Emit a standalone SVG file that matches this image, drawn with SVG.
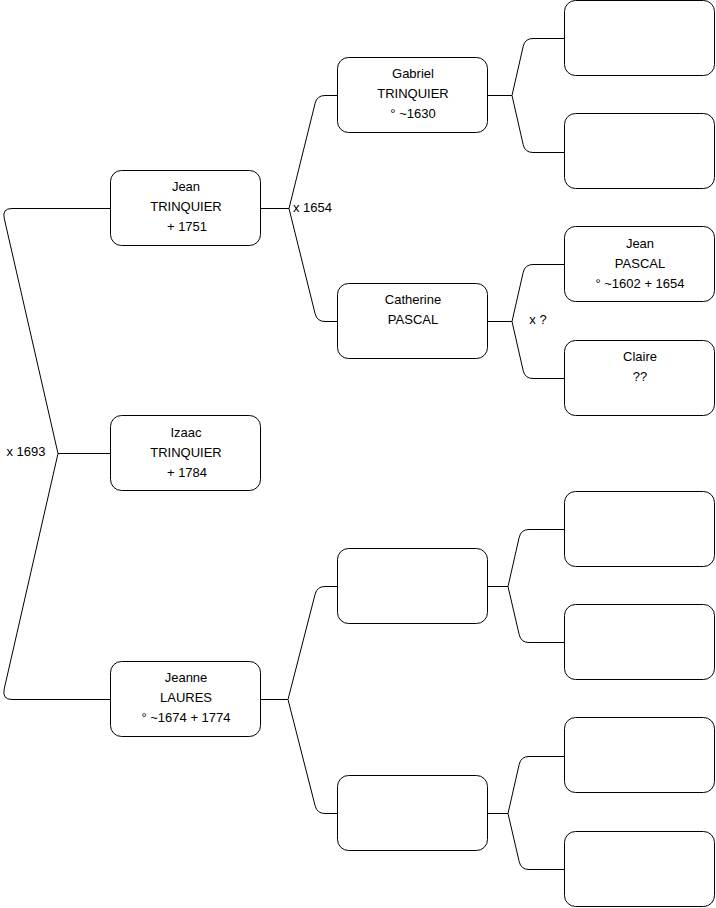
<svg xmlns="http://www.w3.org/2000/svg" width="716" height="908" viewBox="0 0 716 908">
<style>
.box{fill:#fff;stroke:#000;stroke-width:1}
.edge{fill:none;stroke:#000;stroke-width:1}
text{font-family:"Liberation Sans",Arial,sans-serif;font-size:13px;fill:#000;text-anchor:middle}
.lbl{text-anchor:start}
</style>
<rect width="716" height="908" fill="#fff"/>
<g id="connectors">
<path class="edge" d="M110.5,208.5 L12,208.5 Q2,208.5 4.2,218.2 L58,453.5 L4.2,689 Q2,699.5 12,699.5 L110.5,699.5"/>
<path class="edge" d="M58,453.5 L110.5,453.5"/>
<path class="edge" d="M260.5,208.5 L289,208.5 M325,95.5 Q317,95.5 315.1,103.3 L289,208.5 L315.1,313.7 Q317,321.5 325,321.5 L337.5,321.5 M325,95.5 L337.5,95.5"/>
<path class="edge" d="M487.5,95.5 L512,95.5 M533,38.5 Q525,38.5 523.2,46.3 L512,95.5 L523.2,144.7 Q525,152.5 533,152.5 L564.5,152.5 M533,38.5 L564.5,38.5"/>
<path class="edge" d="M487.5,321.5 L512,321.5 M533,264.5 Q525,264.5 523.2,272.3 L512,321.5 L523.2,370.7 Q525,378.5 533,378.5 L564.5,378.5 M533,264.5 L564.5,264.5"/>
<path class="edge" d="M260.5,699.5 L288,699.5 M325,586.5 Q317,586.5 315.1,594.3 L288,699.5 L315.1,805.7 Q317,813.5 325,813.5 L337.5,813.5 M325,586.5 L337.5,586.5"/>
<path class="edge" d="M487.5,586.5 L508,586.5 M529,529.5 Q521,529.5 519.2,537.3 L508,586.5 L519.2,634.7 Q521,642.5 529,642.5 L564.5,642.5 M529,529.5 L564.5,529.5"/>
<path class="edge" d="M487.5,813.5 L508,813.5 M529,756.5 Q521,756.5 519.2,764.3 L508,813.5 L519.2,861.7 Q521,869.5 529,869.5 L564.5,869.5 M529,756.5 L564.5,756.5"/>
<text x="26" y="456">x 1693</text>
<text class="lbl" x="293" y="212">x 1654</text>
<text x="538" y="324">x ?</text>
</g>
<g id="jean-trinquier"><rect class="box" x="110.5" y="170.5" width="150" height="75" rx="11"/>
<text x="186" y="191">Jean</text><text x="186" y="211">TRINQUIER</text><text x="187" y="231">+ 1751</text></g>
<g id="izaac-trinquier"><rect class="box" x="110.5" y="415.5" width="150" height="75" rx="11"/>
<text x="186" y="437">Izaac</text><text x="186" y="457">TRINQUIER</text><text x="187" y="477">+ 1784</text></g>
<g id="jeanne-laures"><rect class="box" x="110.5" y="661.5" width="150" height="75" rx="11"/>
<text x="186" y="682">Jeanne</text><text x="186" y="702">LAURES</text><text x="186" y="722">° ~1674 + 1774</text></g>
<g id="gabriel-trinquier"><rect class="box" x="337.5" y="57.5" width="150" height="75" rx="11"/>
<text x="413" y="78">Gabriel</text><text x="413" y="98">TRINQUIER</text><text x="413" y="118">° ~1630</text></g>
<g id="catherine-pascal"><rect class="box" x="337.5" y="283.5" width="150" height="75" rx="11"/>
<text x="413" y="304">Catherine</text><text x="413" y="324">PASCAL</text></g>
<g id="empty-mid-1"><rect class="box" x="337.5" y="548.5" width="150" height="75" rx="11"/></g>
<g id="empty-mid-2"><rect class="box" x="337.5" y="775.5" width="150" height="75" rx="11"/></g>
<g id="empty-r1"><rect class="box" x="564.5" y="0.5" width="150" height="75" rx="11"/></g>
<g id="empty-r2"><rect class="box" x="564.5" y="113.5" width="150" height="75" rx="11"/></g>
<g id="jean-pascal"><rect class="box" x="564.5" y="226.5" width="150" height="75" rx="11"/>
<text x="640" y="248">Jean</text><text x="640" y="268">PASCAL</text><text x="640" y="288">° ~1602 + 1654</text></g>
<g id="claire"><rect class="box" x="564.5" y="340.5" width="150" height="75" rx="11"/>
<text x="640" y="361">Claire</text><text x="640" y="381">??</text></g>
<g id="empty-r5"><rect class="box" x="564.5" y="491.5" width="150" height="75" rx="11"/></g>
<g id="empty-r6"><rect class="box" x="564.5" y="604.5" width="150" height="75" rx="11"/></g>
<g id="empty-r7"><rect class="box" x="564.5" y="717.5" width="150" height="75" rx="11"/></g>
<g id="empty-r8"><rect class="box" x="564.5" y="831.5" width="150" height="75" rx="11"/></g>
</svg>
